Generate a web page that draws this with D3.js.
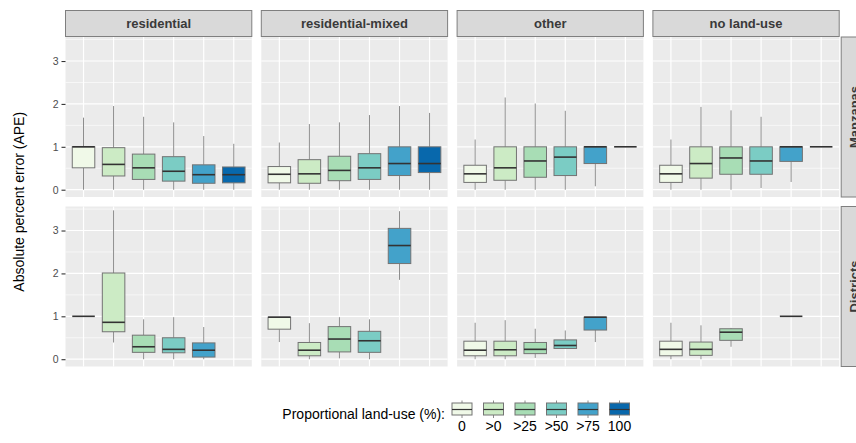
<!DOCTYPE html>
<html>
<head>
<meta charset="utf-8">
<script src="https://cdn.jsdelivr.net/npm/d3@7"></script>
<style>
  body { margin: 0; background: #fff; }
  text { font-family: "Liberation Sans", Arial, sans-serif; }
</style>
</head>
<body>
<svg id="chart" width="856" height="443"></svg>
<script>
// categories and facets
var categories = ["0", ">0", ">25", ">50", ">75", "100"];
var landUses = ["residential", "residential-mixed", "other", "no land-use"];
var levels = ["Manzanas", "Districts"];
var yTicks = [0, 1, 2, 3];
var colors = ["#f0f9e8", "#ccebc5", "#a8ddb5", "#7bccc4", "#43a2ca", "#0868ac"];

// box summaries per category: [lower whisker, q1, median, q3, upper whisker], null = no data
var manzanasResidential = [[0, 0.51, 1.0, 1.0, 1.68], [0, 0.32, 0.59, 0.98, 1.95], [0, 0.24, 0.51, 0.83, 1.70], [0, 0.20, 0.43, 0.77, 1.57], [0, 0.15, 0.35, 0.58, 1.25], [0, 0.16, 0.35, 0.53, 1.07]];
var manzanasMixed = [[0, 0.16, 0.36, 0.54, 1.10], [0, 0.15, 0.37, 0.70, 1.53], [0, 0.21, 0.45, 0.78, 1.57], [0, 0.24, 0.51, 0.84, 1.74], [0, 0.33, 0.61, 1.0, 1.95], [0, 0.40, 0.61, 1.0, 1.79]];
var manzanasOther = [[0, 0.17, 0.37, 0.57, 1.17], [0, 0.22, 0.51, 1.0, 2.15], [0, 0.29, 0.67, 1.0, 2.01], [0, 0.33, 0.76, 1.0, 1.84], [0.08, 0.61, 1.0, 1.0, 1.0], [1, 1, 1, 1, 1]];
var manzanasNone = [[0, 0.17, 0.37, 0.57, 1.17], [0, 0.27, 0.61, 1.0, 1.93], [0, 0.36, 0.74, 1.0, 1.85], [0.04, 0.36, 0.67, 1.0, 1.70], [0.18, 0.66, 1.0, 1.0, 1.0], [1, 1, 1, 1, 1]];
var districtsResidential = [[1, 1, 1, 1, 1], [0.39, 0.64, 0.86, 2.01, 3.47], [0, 0.16, 0.29, 0.56, 0.93], [0, 0.15, 0.23, 0.50, 0.98], [0, 0.05, 0.21, 0.38, 0.75], null];
var districtsMixed = [[0.40, 0.70, 0.98, 0.98, 0.98], [0, 0.08, 0.21, 0.39, 0.84], [0.02, 0.17, 0.47, 0.76, 0.98], [0, 0.16, 0.43, 0.65, 0.93], [1.85, 2.23, 2.65, 3.05, 3.45], null];
var districtsOther = [[0, 0.08, 0.21, 0.42, 0.85], [0, 0.08, 0.22, 0.42, 0.91], [0.03, 0.13, 0.23, 0.39, 0.71], [0.25, 0.25, 0.32, 0.45, 0.67], [0.40, 0.68, 0.98, 0.98, 0.98], null];
var districtsNone = [[0, 0.08, 0.23, 0.42, 0.85], [0, 0.09, 0.23, 0.40, 0.79], [0.29, 0.44, 0.63, 0.71, 0.73], null, [1, 1, 1, 1, 1], null];

var panelData = [
  [manzanasResidential, manzanasMixed, manzanasOther, manzanasNone],
  [districtsResidential, districtsMixed, districtsOther, districtsNone]
];

var svg = d3.select("#chart");

var panelLeft = 65.5, panelW = 186.3, panelGap = 9.5;
var panelTops = [37, 206.5], panelH = 160;
var stripH = 26;

var xScale = d3.scalePoint().domain(categories).range([0, panelW]).padding(0.6);
var yScale = d3.scaleLinear().domain([-0.17, 3.56]).range([panelH, 0]);
var colorScale = d3.scaleOrdinal().domain(categories).range(colors);
var boxW = xScale.step() * 0.75;

// top strips
landUses.forEach((lu, j) => {
  var sx = panelLeft + j * (panelW + panelGap);
  var sg = svg.append("g").attr("transform", `translate(${sx}, ${panelTops[0] - stripH - 0.5})`);
  sg.append("rect").attr("width", panelW).attr("height", stripH).attr("fill", "#d9d9d9").attr("stroke", "#7f7f7f").attr("stroke-width", 1);
  sg.append("text").attr("x", panelW / 2).attr("y", stripH / 2 + 1).attr("text-anchor", "middle").attr("dominant-baseline", "middle")
    .attr("font-size", "13px").attr("font-weight", "bold").attr("fill", "#3a3a3a").text(lu);
});

levels.forEach((lev, i) => {
  var py = panelTops[i];

  // right strip (cut by the page edge, as in the source)
  var rx = panelLeft + 4 * panelW + 3 * panelGap + 2;
  var rg = svg.append("g").attr("transform", `translate(${rx}, ${py})`);
  rg.append("rect").attr("width", stripH).attr("height", panelH).attr("fill", "#d9d9d9").attr("stroke", "#7f7f7f").attr("stroke-width", 1);
  rg.append("text").attr("transform", `translate(${stripH / 2 + 1}, ${panelH / 2}) rotate(-90)`).attr("text-anchor", "middle").attr("dominant-baseline", "middle")
    .attr("font-size", "13px").attr("font-weight", "bold").attr("fill", "#3a3a3a").text(lev);

  landUses.forEach((lu, j) => {
    var px = panelLeft + j * (panelW + panelGap);
    var g = svg.append("g").attr("transform", `translate(${px}, ${py})`);
    g.append("rect").attr("width", panelW).attr("height", panelH).attr("fill", "#ebebeb");

    // minor grid
    g.selectAll(".minor").data([0.5, 1.5, 2.5, 3.5]).join("line").attr("class", "minor")
      .attr("x1", 0).attr("x2", panelW).attr("y1", d => yScale(d)).attr("y2", d => yScale(d))
      .attr("stroke", "#fff").attr("stroke-width", 0.6);
    // major grid
    g.selectAll(".hmajor").data(yTicks).join("line").attr("class", "hmajor")
      .attr("x1", 0).attr("x2", panelW).attr("y1", d => yScale(d)).attr("y2", d => yScale(d))
      .attr("stroke", "#fff").attr("stroke-width", 1.2);
    g.selectAll(".vmajor").data(categories).join("line").attr("class", "vmajor")
      .attr("x1", d => xScale(d)).attr("x2", d => xScale(d)).attr("y1", 0).attr("y2", panelH)
      .attr("stroke", "#fff").attr("stroke-width", 1.2);

    var rows = panelData[i][j].map((s, k) => ({cat: categories[k], s: s})).filter(d => d.s !== null);

    // whiskers
    g.selectAll(".wlo").data(rows).join("line").attr("class", "wlo")
      .attr("x1", d => xScale(d.cat)).attr("x2", d => xScale(d.cat))
      .attr("y1", d => yScale(d.s[0])).attr("y2", d => yScale(d.s[1]))
      .attr("stroke", "#8c8c8c").attr("stroke-width", 1);
    g.selectAll(".whi").data(rows).join("line").attr("class", "whi")
      .attr("x1", d => xScale(d.cat)).attr("x2", d => xScale(d.cat))
      .attr("y1", d => yScale(d.s[3])).attr("y2", d => yScale(d.s[4]))
      .attr("stroke", "#8c8c8c").attr("stroke-width", 1);
    // boxes
    g.selectAll(".box").data(rows).join("rect").attr("class", "box")
      .attr("x", d => xScale(d.cat) - boxW / 2).attr("width", boxW)
      .attr("y", d => yScale(d.s[3])).attr("height", d => yScale(d.s[1]) - yScale(d.s[3]))
      .attr("fill", d => colorScale(d.cat)).attr("stroke", "#737373").attr("stroke-width", 1);
    // medians
    g.selectAll(".med").data(rows).join("line").attr("class", "med")
      .attr("x1", d => xScale(d.cat) - boxW / 2).attr("x2", d => xScale(d.cat) + boxW / 2)
      .attr("y1", d => yScale(d.s[2])).attr("y2", d => yScale(d.s[2]))
      .attr("stroke", "#333").attr("stroke-width", 1.6);

    if (j === 0) {
      var ax = g.append("g").call(d3.axisLeft(yScale).tickValues(yTicks).tickFormat(d3.format("d")).tickSize(4).tickPadding(3));
      ax.select(".domain").remove();
      ax.selectAll(".tick line").attr("stroke", "#333").attr("stroke-width", 1.1);
      ax.selectAll(".tick text").attr("fill", "#4d4d4d").attr("font-size", "10.5px").attr("font-family", "Liberation Sans, Arial, sans-serif");
    }
  });
});

// y axis title
svg.append("text").attr("transform", `translate(24, ${(panelTops[0] + panelTops[1] + panelH) / 2}) rotate(-90)`)
  .attr("text-anchor", "middle").attr("font-size", "14px").attr("fill", "#000").text("Absolute percent error (APE)");

// legend
var legend = svg.append("g");
legend.append("text").attr("x", 445).attr("y", 419).attr("text-anchor", "end").attr("font-size", "14px").attr("fill", "#000")
  .text("Proportional land-use (%):");
var keyStep = 31.5, keyW = 20;
categories.forEach((c, k) => {
  var cx = 462 + k * keyStep;
  var kg = legend.append("g").attr("transform", `translate(${cx}, 0)`);
  kg.append("line").attr("x1", 0).attr("x2", 0).attr("y1", 400.5).attr("y2", 418).attr("stroke", "#8c8c8c");
  kg.append("rect").attr("x", -keyW / 2).attr("y", 403).attr("width", keyW).attr("height", 12)
    .attr("fill", colorScale(c)).attr("stroke", "#737373");
  kg.append("line").attr("x1", -keyW / 2).attr("x2", keyW / 2).attr("y1", 409.5).attr("y2", 409.5).attr("stroke", "#333").attr("stroke-width", 1.2);
  kg.append("text").attr("x", 0).attr("y", 431).attr("text-anchor", "middle").attr("font-size", "14px").attr("fill", "#000").text(c);
});
</script>
</body>
</html>
